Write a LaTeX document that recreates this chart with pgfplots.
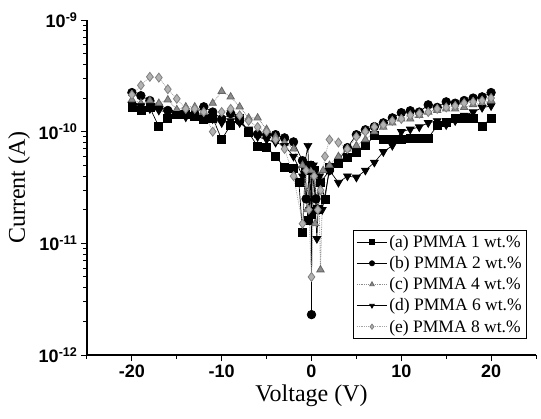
\documentclass[border=0pt]{standalone}
\usepackage{pgfplots}
\pgfplotsset{compat=1.18}
\usepackage{fontspec}
\setmainfont{Liberation Serif}
\setsansfont{Liberation Sans}
\begin{document}
\begin{tikzpicture}
\useasboundingbox (-87pt,-64pt) rectangle (454pt,355pt);
\begin{axis}[
  scale only axis, width=449pt, height=335pt,
  at={(0,0)}, anchor=south west,
  ymode=log, xmin=-25, xmax=25, ymin=1e-12, ymax=1e-9,
  axis x line*=bottom, axis y line*=left,
  axis line style={-, line width=1.1pt},
  tick align=outside,
  major tick length=6pt, minor tick length=3.5pt,
  every tick/.style={black, line width=1pt},
  xtick={-20,-10,0,10,20}, minor xtick={-25,-15,-5,5,15,25},
  xticklabels={\textbf{-20},\textbf{-10},\textbf{0},\textbf{10},\textbf{20}},
  ytick={1e-12,1e-11,1e-10,1e-9},
  yticklabels={\textbf{10\textsuperscript{-12}},\textbf{10\textsuperscript{-11}},\textbf{10\textsuperscript{-10}},\textbf{10\textsuperscript{-9}}},
  ticklabel style={font=\fontsize{18}{20}\sffamily\bfseries},
  xlabel={Voltage (V)}, ylabel={Current (A)},
  label style={font=\fontsize{24}{26}\selectfont},
  xlabel style={yshift=-1pt},
  ylabel style={yshift=2pt},
  legend style={at={(0.98,0.048)}, anchor=south east, draw=black, line width=0.8pt,
    font=\fontsize{17.5}{19}\selectfont, row sep=3.5pt, inner sep=3pt},
  legend cell align=left,
  legend image code/.code={\draw[mark repeat=2,mark phase=2,#1] plot coordinates {(0pt,0pt)(15pt,0pt)(30pt,0pt)};},
  every legend image post/.style={mark size=2.6pt},
  clip=false,
]
\addplot[black, line width=0.7pt, mark=square*, mark size=4pt, mark options={solid}] coordinates {
(-20,1.64e-10)(-19,1.54e-10)(-18,1.64e-10)(-17,1.11e-10)(-16,1.33e-10)(-15,1.42e-10)(-14,1.42e-10)(-13,1.36e-10)(-12,1.28e-10)(-11,1.33e-10)(-10,8.5e-11)(-9,1.15e-10)(-8,1.33e-10)(-7,9.8e-11)(-6,7.4e-11)(-5,7.2e-11)(-4,6.0e-11)(-3,4.8e-11)(-2,4.7e-11)(-1.4,3.5e-11)(-1,1.25e-11)(-0.7,4.5e-11)(-0.4,1.6e-11)(-0.2,5e-11)(0,1.8e-11)(0.3,4.5e-11)(0.6,2.0e-11)(1,3.5e-11)(1.5,2.5e-11)(2,4.8e-11)(3,5.2e-11)(4,5.9e-11)(5,6.5e-11)(6,7.5e-11)(7,9.2e-11)(8,8.5e-11)(9,8.5e-11)(10,8.5e-11)(11,8.8e-11)(12,8.8e-11)(13,8.8e-11)(14,1.13e-10)(15,1.2e-10)(16,1.33e-10)(17,1.33e-10)(18,1.33e-10)(19,1.11e-10)(20,1.33e-10)};
\addlegendentry{(a) PMMA 1 wt.\%}
\addplot[black, line width=0.7pt, mark=*, mark size=4.3pt, mark options={solid}] coordinates {
(-20,2.24e-10)(-19,2.1e-10)(-18,1.9e-10)(-17,1.67e-10)(-16,1.55e-10)(-15,1.45e-10)(-14,1.45e-10)(-13,1.45e-10)(-12,1.67e-10)(-11,1.5e-10)(-10,1.3e-10)(-9,1.45e-10)(-8,1.25e-10)(-7,1.0e-10)(-6,9.5e-11)(-5,9.4e-11)(-4,9.4e-11)(-3,8.8e-11)(-2,8.1e-11)(-1,5.5e-11)(-0.6,2.5e-11)(-0.05,5e-11)(0,2.3e-12)(0.05,4.5e-11)(0.5,2.5e-11)(1,3.5e-11)(2,4.5e-11)(3,5.5e-11)(4,7.2e-11)(5,9.4e-11)(6,1.04e-10)(7,1.11e-10)(8,1.2e-10)(9,1.33e-10)(10,1.48e-10)(11,1.54e-10)(12,1.5e-10)(13,1.74e-10)(14,1.65e-10)(15,1.85e-10)(16,1.8e-10)(17,1.9e-10)(18,2.0e-10)(19,2.05e-10)(20,2.24e-10)};
\addlegendentry{(b) PMMA 2 wt.\%}
\addplot[black!45, densely dotted, line width=0.8pt, mark=triangle*, mark size=4.2pt, mark options={solid, fill=black!45, draw=black!60}] coordinates {
(-20,1.93e-10)(-19,1.8e-10)(-18,1.9e-10)(-17,1.8e-10)(-16,1.93e-10)(-15,1.58e-10)(-14,1.67e-10)(-13,1.67e-10)(-12,1.5e-10)(-11,1.8e-10)(-10,2.3e-10)(-9,2.05e-10)(-8,1.67e-10)(-7,1.33e-10)(-6,1.33e-10)(-5,1.05e-10)(-4,9e-11)(-3,8e-11)(-2,7e-11)(-1,5e-11)(-0.5,2e-11)(0,4.5e-11)(0.4,1.5e-11)(0.8,4e-11)(1.0,5.8e-12)(1.3,4.5e-11)(2,5e-11)(3,6e-11)(4,7e-11)(5,7.5e-11)(6,8.5e-11)(7,1.0e-10)(8,1.1e-10)(9,1.2e-10)(10,1.3e-10)(11,1.3e-10)(12,1.4e-10)(13,1.5e-10)(14,1.55e-10)(15,1.6e-10)(16,1.6e-10)(17,1.65e-10)(18,1.75e-10)(19,1.8e-10)(20,1.9e-10)};
\addlegendentry{(c) PMMA 4 wt.\%}
\addplot[black, line width=0.7pt, mark=triangle*, mark size=4.5pt, mark options={solid, rotate=180}] coordinates {
(-20,1.75e-10)(-19,1.7e-10)(-18,1.6e-10)(-17,1.55e-10)(-16,1.5e-10)(-15,1.45e-10)(-14,1.35e-10)(-13,1.4e-10)(-12,1.35e-10)(-11,1.3e-10)(-10,1.2e-10)(-9,1.25e-10)(-8,1.2e-10)(-7,1.05e-10)(-6,9e-11)(-5,8.5e-11)(-4,8e-11)(-3,7.5e-11)(-2,6e-11)(-1,4e-11)(-0.4,7.5e-11)(-0.2,2e-11)(0.2,5e-11)(0.6,1.1e-11)(0.9,4e-11)(1.2,2e-11)(2,4.5e-11)(3,3.5e-11)(4,4.0e-11)(5,3.9e-11)(6,4.5e-11)(7,5.3e-11)(8,6.6e-11)(9,7.5e-11)(10,1.0e-10)(11,1.05e-10)(12,1.1e-10)(13,1.2e-10)(14,1.25e-10)(15,1.15e-10)(16,1.25e-10)(17,1.4e-10)(18,1.5e-10)(19,1.64e-10)(20,1.7e-10)};
\addlegendentry{(d) PMMA 6 wt.\%}
\addplot[black!35, densely dotted, line width=0.8pt, mark=diamond*, mark size=4.5pt, mark options={solid, fill=black!30, draw=black!50}] coordinates {
(-20,2.14e-10)(-19,2.6e-10)(-18,3.1e-10)(-17,3.05e-10)(-16,2.4e-10)(-15,1.97e-10)(-14,1.6e-10)(-13,1.6e-10)(-12,1.5e-10)(-11,1.0e-10)(-10,1.5e-10)(-9,1.6e-10)(-8,1.4e-10)(-7,1.25e-10)(-6,1.1e-10)(-5,1.0e-10)(-4,8.5e-11)(-3,7e-11)(-2,4e-11)(-1,1.5e-11)(-0.6,4.5e-11)(-0.3,2e-11)(0,5e-12)(0.3,4e-11)(0.7,2e-11)(1,3e-11)(1.5,6e-11)(2,8.5e-11)(3,8e-11)(4,7e-11)(5,9e-11)(6,1.0e-10)(7,1.1e-10)(8,1.15e-10)(9,1.25e-10)(10,1.3e-10)(11,1.4e-10)(12,1.45e-10)(13,1.5e-10)(14,1.6e-10)(15,1.65e-10)(16,1.7e-10)(17,1.8e-10)(18,1.85e-10)(19,1.9e-10)(20,2.0e-10)};
\addlegendentry{(e) PMMA 8 wt.\%}
\end{axis}
\end{tikzpicture}
\end{document}
